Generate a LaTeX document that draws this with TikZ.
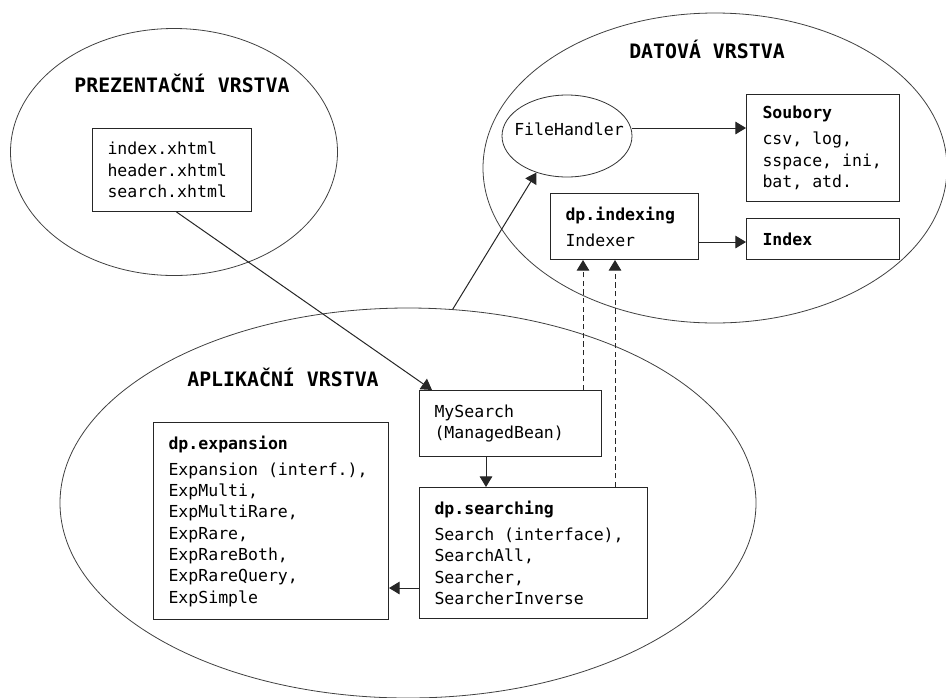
\documentclass[tikz,border=0pt]{standalone}
\usepackage{fontspec}
\setmonofont{DejaVu Sans Mono}
\usetikzlibrary{shapes.geometric,arrows.meta}
\begin{document}
\begin{tikzpicture}[x=0.75pt,y=-0.75pt,
  layer/.style={ellipse, draw=black!75, line width=0.6pt, inner sep=0pt},
  layertitle/.style={inner sep=0pt, font=\ttfamily\bfseries\fontsize{14.9}{18}\selectfont},
  classbox/.style={draw=black!85, line width=0.75pt, fill=white, anchor=north west,
    align=flush left, inner xsep=11.25pt, inner ysep=0pt,
    font=\ttfamily\fontsize{12.4}{16}\selectfont},
  link/.style={line width=0.75pt, draw=black!85, -{Triangle[length=8pt,width=9.5pt]}},
  uses/.style={link, dash pattern=on 4pt off 2.5pt}]

\clip (0,0) rectangle (946,697);

% the three layers
\node[layer, minimum width=245.25pt, minimum height=185.25pt] (pres) at (174,152) {};
\node[layer, minimum width=348pt, minimum height=232.5pt] (data) at (715,168) {};
\node[layer, minimum width=522pt, minimum height=292.5pt] (app) at (408,503) {};

\node[layertitle] (tpres) at (182,83) {PREZENTAČNÍ VRSTVA};
\node[layertitle] (tdata) at (707,49) {DATOVÁ VRSTVA};
\node[layertitle] (tapp) at (283,377) {APLIKAČNÍ VRSTVA};

% presentation layer
\node[classbox, text width=96.75pt, minimum height=62.25pt] (pages) at (92,128)
  {index.xhtml\\header.xhtml\\search.xhtml};

% data layer
\node[ellipse, draw=black!80, line width=0.6pt, inner sep=0pt,
  minimum width=97.5pt, minimum height=61.5pt, text height=0pt, text depth=0pt,
  font=\ttfamily\fontsize{12.4}{16}\selectfont] (fh) at (567,136)
  {\makebox[0pt]{\hspace{3pt}\raisebox{0.75pt}{FileHandler}}};
\node[classbox, inner xsep=12pt, text width=90.75pt, minimum height=80.25pt] (soub) at (746,94)
  {\textbf{Soubory}\\[3.5pt]csv, log,\\sspace, ini,\\bat, atd.};
\node[classbox, text width=88.5pt, minimum height=49.5pt] (idx) at (550,193)
  {\textbf{dp.indexing}\\[3.5pt]Indexer};
\node[classbox, inner xsep=12pt, text width=90.75pt, minimum height=30.75pt] (index) at (746,218)
  {\textbf{Index}};

% application layer
\node[classbox, text width=114pt, minimum height=49.5pt] (ms) at (419,390)
  {MySearch\\(ManagedBean)};
\node[classbox, text width=148.5pt, minimum height=98.25pt] (srch) at (419,487)
  {\textbf{dp.searching}\\[3.5pt]Search (interface),\\SearchAll,\\Searcher,\\SearcherInverse};
\node[classbox, text width=153.75pt, minimum height=147.75pt] (exp) at (153,422)
  {\textbf{dp.expansion}\\[3.5pt]Expansion (interf.),\\ExpMulti,\\ExpMultiRare,\\ExpRare,\\ExpRareBoth,\\ExpRareQuery,\\ExpSimple};

% connectors
\coordinate (yFS) at (0,128);
\coordinate (yII) at (0,242);
\coordinate (xMS) at (486,0);
\coordinate (yEX) at (0,588);
\coordinate (xD1) at (583,0);
\coordinate (xD2) at (615,0);

\draw[link] ([xshift=3.4pt]pages.south) -- ([xshift=9.75pt]ms.north west);
\draw[link] (app.77) -- (fh.230);
\draw[link] (fh.east |- yFS) -- (soub.west |- yFS);
\draw[link] (idx.east |- yII) -- (index.west |- yII);
\draw[link] (ms.south -| xMS) -- (srch.north -| xMS);
\draw[link] (srch.west |- yEX) -- (exp.east |- yEX);
\draw[uses] (ms.north -| xD1) -- (idx.south -| xD1);
\draw[uses] (srch.north -| xD2) -- (idx.south -| xD2);
\end{tikzpicture}
\end{document}
